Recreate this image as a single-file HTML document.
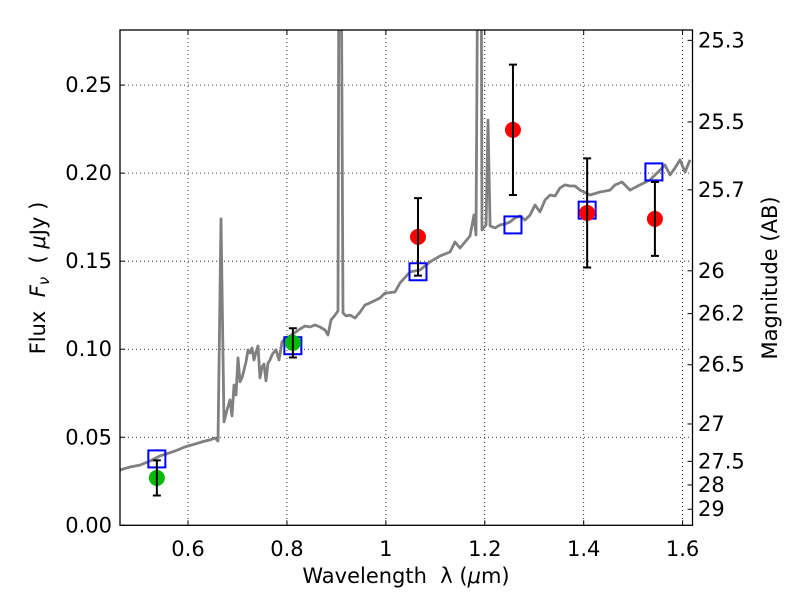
<!DOCTYPE html>
<html><head><meta charset="utf-8"><style>
body{margin:0;background:#fff}
svg text{font-family:"DejaVu Sans","Liberation Sans",sans-serif;fill:#000;white-space:pre}
</style></head><body>
<svg id="chart" width="800" height="600" viewBox="0 0 800 600" xmlns="http://www.w3.org/2000/svg">
<defs><clipPath id="pc"><rect x="120" y="30" width="572.5" height="495.3"/></clipPath></defs>
<rect x="0" y="0" width="800" height="600" fill="#fff"/>
<g id="grid"></g>
<g id="spec" clip-path="url(#pc)"></g>
<g id="marks" clip-path="url(#pc)"></g>
<rect x="120" y="30" width="572.5" height="495.3" fill="none" stroke="#000" stroke-width="1.3"/>
<g id="axes"></g>
<text x="406" y="583" font-size="21" text-anchor="middle">Wavelength&#160;&#160;λ (<tspan font-style="italic">μ</tspan>m)</text>
<text transform="translate(45,278) rotate(-90)" font-size="21" text-anchor="middle">Flux&#160;&#160;<tspan font-style="italic">F</tspan><tspan font-style="italic" font-size="15" dy="4">ν</tspan><tspan dy="-4">&#160;&#160;( </tspan><tspan font-style="italic">μ</tspan>Jy )</text>
<text transform="translate(777,278) rotate(-90)" font-size="21" text-anchor="middle">Magnitude (AB)</text>
</svg>
<script>
const specWave=[0.4625,0.4827,0.503,0.5232,0.5434,0.5737,0.5939,0.6142,0.6344,0.6445,0.6546,0.6607,0.6667,0.6728,0.6789,0.6849,0.689,0.693,0.6971,0.7011,0.7051,0.7092,0.7132,0.7173,0.7213,0.7254,0.7294,0.7335,0.7375,0.7415,0.7456,0.7496,0.7537,0.7577,0.7618,0.7658,0.7698,0.7739,0.7779,0.784,0.7901,0.7982,0.8062,0.8265,0.8366,0.8467,0.8568,0.8669,0.877,0.8831,0.8891,0.8972,0.9033,0.9053,0.9094,0.9134,0.9195,0.9276,0.9377,0.9478,0.9579,0.968,0.9882,0.9983,1.0186,1.0287,1.0489,1.0691,1.0893,1.1096,1.1298,1.1399,1.15,1.1702,1.1783,1.1823,1.1864,1.1925,1.1945,1.2026,1.2066,1.2107,1.2208,1.2309,1.241,1.2511,1.2612,1.2713,1.2814,1.2915,1.3016,1.3117,1.3219,1.332,1.3421,1.3522,1.3623,1.3724,1.3825,1.3926,1.4128,1.4331,1.4533,1.4634,1.4775,1.4937,1.5139,1.5341,1.5443,1.5544,1.5645,1.5746,1.5847,1.5948,1.6049,1.615];
const specFlux=[0.0314,0.0331,0.0342,0.0365,0.0394,0.0422,0.0445,0.0462,0.0479,0.0485,0.0496,0.0479,0.174,0.0587,0.0655,0.0712,0.0621,0.0797,0.074,0.0951,0.0815,0.0837,0.0882,0.0928,0.0996,0.0979,0.1007,0.0939,0.0984,0.1018,0.0837,0.0899,0.0916,0.082,0.0922,0.0939,0.0968,0.0984,0.0996,0.0939,0.1041,0.1064,0.1075,0.1115,0.1132,0.1126,0.1138,0.1126,0.1109,0.1081,0.1166,0.1194,0.1217,0.35,0.35,0.1206,0.1189,0.1194,0.1177,0.1211,0.1251,0.1263,0.1291,0.1319,0.1325,0.1376,0.1439,0.145,0.1496,0.153,0.1552,0.1609,0.1575,0.1643,0.1763,0.1649,0.35,0.35,0.1677,0.1706,0.2302,0.17,0.1689,0.1706,0.1711,0.1723,0.1745,0.1757,0.1734,0.1762,0.1819,0.178,0.1848,0.1876,0.187,0.1916,0.1933,0.1927,0.1927,0.1904,0.1876,0.1893,0.1904,0.1933,0.195,0.1904,0.1933,0.1961,0.199,0.2018,0.2046,0.199,0.2029,0.2075,0.2007,0.2075];
const greenWave=[0.537,0.812];
const greenFlux=[0.0269,0.1036];
const greenErr=[0.010,0.0083];
const redWave=[1.065,1.257,1.407,1.544];
const redFlux=[0.1638,0.2246,0.1774,0.174];
const redErr=[0.022,0.037,0.031,0.021];
const modelWave=[0.537,0.812,1.065,1.257,1.407,1.542];
const modelFlux=[0.0377,0.102,0.144,0.1706,0.179,0.2007];
const xTicks=[0.6,0.8,1.0,1.2,1.4,1.6];
const xTickLabels=["0.6","0.8","1","1.2","1.4","1.6"];
const yTicks=[0,0.05,0.10,0.15,0.20,0.25];
const yTickLabels=["0.00","0.05","0.10","0.15","0.20","0.25"];
const magTicks=[25.3,25.5,25.7,26,26.2,26.5,27,27.5,28,29];
const magTickLabels=["25.3","25.5","25.7","26","26.2","26.5","27","27.5","28","29"];

const X0=120,X1=692.5,Y0=525.3,Y1=30,xmin=0.4625,xmax=1.62,ymin=0,ymax=0.2813;
const sx=v=>X0+(v-xmin)/(xmax-xmin)*(X1-X0);
const sy=v=>Y0-(v-ymin)/(ymax-ymin)*(Y0-Y1);
const NS="http://www.w3.org/2000/svg";
function mk(tag,attrs,parent){const e=document.createElementNS(NS,tag);for(const k in attrs)e.setAttribute(k,attrs[k]);parent.appendChild(e);return e;}
const grid=document.getElementById('grid'),axes=document.getElementById('axes'),spec=document.getElementById('spec'),marks=document.getElementById('marks');
xTicks.forEach((t,i)=>{const x=sx(t);
 const g=mk('line',{x1:x,x2:x,y1:Y1,y2:Y0,stroke:'#000','stroke-width':0.8,'stroke-dasharray':'1,3'},grid);
 
 
 mk('line',{x1:x,x2:x,y1:Y0,y2:Y0-5,stroke:'#000'},axes);
 mk('line',{x1:x,x2:x,y1:Y1,y2:Y1+5,stroke:'#000'},axes);
 const tx=mk('text',{x:x,y:556,'font-size':21,'text-anchor':'middle'},axes);tx.textContent=xTickLabels[i];
 
 });
yTicks.forEach((t,i)=>{const y=sy(t);
 const g=mk('line',{x1:X0,x2:X1,y1:y,y2:y,stroke:'#000','stroke-width':0.8,'stroke-dasharray':'1,3'},grid);
 
 
 mk('line',{x1:X0,x2:X0+5,y1:y,y2:y,stroke:'#000'},axes);
 const tx=mk('text',{x:112,y:y+7,'font-size':21,'text-anchor':'end'},axes);tx.textContent=yTickLabels[i];
 
 });
magTicks.forEach((m,i)=>{const y=sy(Math.pow(10,(23.9-m)/2.5));
 mk('line',{x1:X1,x2:X1-5,y1:y,y2:y,stroke:'#000'},axes);
 const tx=mk('text',{x:698,y:y+7,'font-size':21},axes);tx.textContent=magTickLabels[i];
 
 });
const pts=specWave.map((w,i)=>sx(w).toFixed(1)+','+sy(specFlux[i]).toFixed(1)).join(' ');
const pl=mk('polyline',{points:pts,fill:'none',stroke:'#808080','stroke-width':2.8,'stroke-linejoin':'round'},spec);


modelWave.forEach((w,i)=>{const x=sx(w),y=sy(modelFlux[i]);
 const r=mk('rect',{x:x-8.5,y:y-8.5,width:17,height:17,fill:'none',stroke:'#0000ff','stroke-width':2},marks);
 
 });
function errpts(W,F,E,color,name){W.forEach((w,i)=>{const x=sx(w),y=sy(F[i]),yt=sy(F[i]+E[i]),yb=sy(F[i]-E[i]);
 const c=mk('circle',{cx:x,cy:y,r:8,fill:color},marks);
 
 
 const eb=mk('path',{d:`M${x},${yt}V${yb}M${x-4},${yt}H${x+4}M${x-4},${yb}H${x+4}`,stroke:'#000','stroke-width':2,fill:'none'},marks);
 
 });}
errpts(greenWave,greenFlux,greenErr,'#00bb00','hst-flux-point');
errpts(redWave,redFlux,redErr,'#ff0000','nir-flux-point');
</script>
</body></html>
